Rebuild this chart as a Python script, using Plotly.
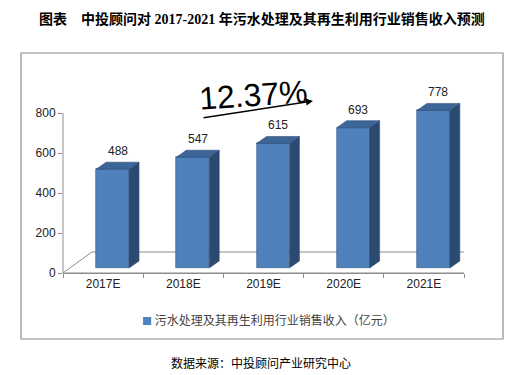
import plotly.graph_objects as go

# ---- data ----
categories = ["2017E", "2018E", "2019E", "2020E", "2021E"]
revenue = [488, 547, 615, 693, 778]
y_ticks = [0, 200, 400, 600, 800]
series_name = "污水处理及其再生利用行业销售收入（亿元）"
title_text = "图表　中投顾问对 2017-2021 年污水处理及其再生利用行业销售收入预测"
source_text = "数据来源：中投顾问产业研究中心"
cagr_text = "12.37%"

W, H = 514, 375
def px(x): return x / W
def py(y): return 1 - y / H

FRONT = "#4F81BD"
SIDE = "#2B4A70"
TOP = "#3C6598"
EDGE = "#2F5178"
GRID = "#8C8C8C"
LAT = "Liberation Sans, Arial, sans-serif"
CJK = "Noto Sans CJK SC, sans-serif"

Y0_PIX, Y800_PIX, TOP_PIX = 273, 113, 50
y_scale = (Y0_PIX - Y800_PIX) / y_ticks[-1]
y_top = (Y0_PIX - TOP_PIX) / y_scale
b_scale = 0.2025
b_bottom = -(Y0_PIX - 268) / b_scale
b_top = b_bottom + (Y0_PIX - TOP_PIX) / b_scale

bar_w = 0.41
bar_off = -0.087
dx = 0.125
dy = 7 / b_scale
fdx = 0.36
fdy = 21 / y_scale

fig = go.Figure()
fig.add_trace(go.Bar(
    x=categories, y=revenue, name=series_name,
    width=bar_w, offset=bar_off,
    marker=dict(color=FRONT, line=dict(color=EDGE, width=0.6)),
    yaxis="y2", showlegend=False,
))

shapes = []
shapes.append(dict(type="path", xref="x", yref="y", layer="below",
                   path=f"M -0.5,0 L {-0.5+fdx},{fdy} L {4.5+fdx},{fdy} L 4.5,0 Z",
                   line=dict(color=GRID, width=1), fillcolor="white"))
shapes.append(dict(type="line", xref="paper", yref="y", layer="above",
                   x0=px(63), x1=px(63), y0=y_ticks[0], y1=y_ticks[-1],
                   line=dict(color=GRID, width=1)))
for i, v in enumerate(revenue):
    xl = i + bar_off
    xr = xl + bar_w
    shapes.append(dict(type="path", xref="x", yref="y2", layer="above",
                       path=f"M {xr},0 L {xr+dx},{dy} L {xr+dx},{v+dy} L {xr},{v} Z",
                       fillcolor=SIDE, line=dict(color=EDGE, width=0.6)))
    shapes.append(dict(type="path", xref="x", yref="y2", layer="above",
                       path=f"M {xl},{v} L {xl+dx},{v+dy} L {xr+dx},{v+dy} L {xr},{v} Z",
                       fillcolor=TOP, line=dict(color=EDGE, width=0.6)))
shapes.append(dict(type="rect", xref="paper", yref="paper",
                   x0=px(21), x1=px(503), y0=py(339), y1=py(53),
                   line=dict(color=GRID, width=1.2), layer="below"))

annotations = []
for i, v in enumerate(revenue):
    annotations.append(dict(x=i + bar_off + bar_w / 2 + dx / 2, y=v + dy,
                            xref="x", yref="y2", text=str(v), showarrow=False,
                            xanchor="center", yanchor="bottom", yshift=2,
                            font=dict(family=LAT, size=12, color="#222")))
annotations.append(dict(x=px(262), y=py(19), xref="paper", yref="paper",
                        xanchor="center", yanchor="middle",
                        text=f"<b>{title_text}</b>", showarrow=False,
                        font=dict(family="Liberation Serif, Noto Sans CJK SC, serif", size=14, color="#000")))
annotations.append(dict(x=px(261), y=py(362), xref="paper", yref="paper",
                        xanchor="center", yanchor="middle",
                        text=source_text, showarrow=False,
                        font=dict(family=CJK, size=12, color="#000")))
annotations.append(dict(x=px(140), y=py(319), xref="paper", yref="paper",
                        xanchor="left", yanchor="middle", showarrow=False,
                        text=f"<span style='color:{FRONT};font-size:10px'>■</span> {series_name}",
                        font=dict(family=CJK, size=12, color="#444")))
annotations.append(dict(x=px(253), y=py(95), xref="paper", yref="paper",
                        xanchor="center", yanchor="middle",
                        text=cagr_text, showarrow=False, textangle=-4,
                        font=dict(family=LAT, size=32, color="#000")))
annotations.append(dict(x=px(313), y=py(101), xref="paper", yref="paper",
                        text="", showarrow=True, ax=-111, ay=17,
                        arrowhead=2, arrowsize=1, arrowwidth=1.4,
                        arrowcolor="#000", standoff=0, startstandoff=0))

fig.update_layout(
    width=W, height=H,
    margin=dict(l=0, r=0, t=0, b=0, pad=0, autoexpand=False),
    paper_bgcolor="white", plot_bgcolor="rgba(0,0,0,0)",
    bargap=0, showlegend=False,
    xaxis=dict(domain=[px(63), px(464)], type="category", range=[-0.5, 4.5],
               showline=True, linecolor=GRID, linewidth=1,
               ticks="outside", tickson="boundaries", ticklen=4, tickcolor=GRID,
               showgrid=False, zeroline=False, fixedrange=True, automargin=False,
               tickfont=dict(family=LAT, size=12, color="#222")),
    yaxis=dict(domain=[py(Y0_PIX), py(TOP_PIX)], range=[0, y_top], tickvals=y_ticks,
               showline=False, automargin=False,
               ticks="outside", ticklen=4, tickcolor=GRID,
               showgrid=False, zeroline=False,
               tickfont=dict(family=LAT, size=12, color="#222")),
    yaxis2=dict(domain=[py(Y0_PIX), py(TOP_PIX)], range=[b_bottom, b_top], overlaying="y",
                visible=False, showgrid=False, zeroline=False, automargin=False),
    shapes=shapes, annotations=annotations,
)

fig.write_html("out.html", config={"displayModeBar": False},
               post_script="document.body.style.margin='0';")
